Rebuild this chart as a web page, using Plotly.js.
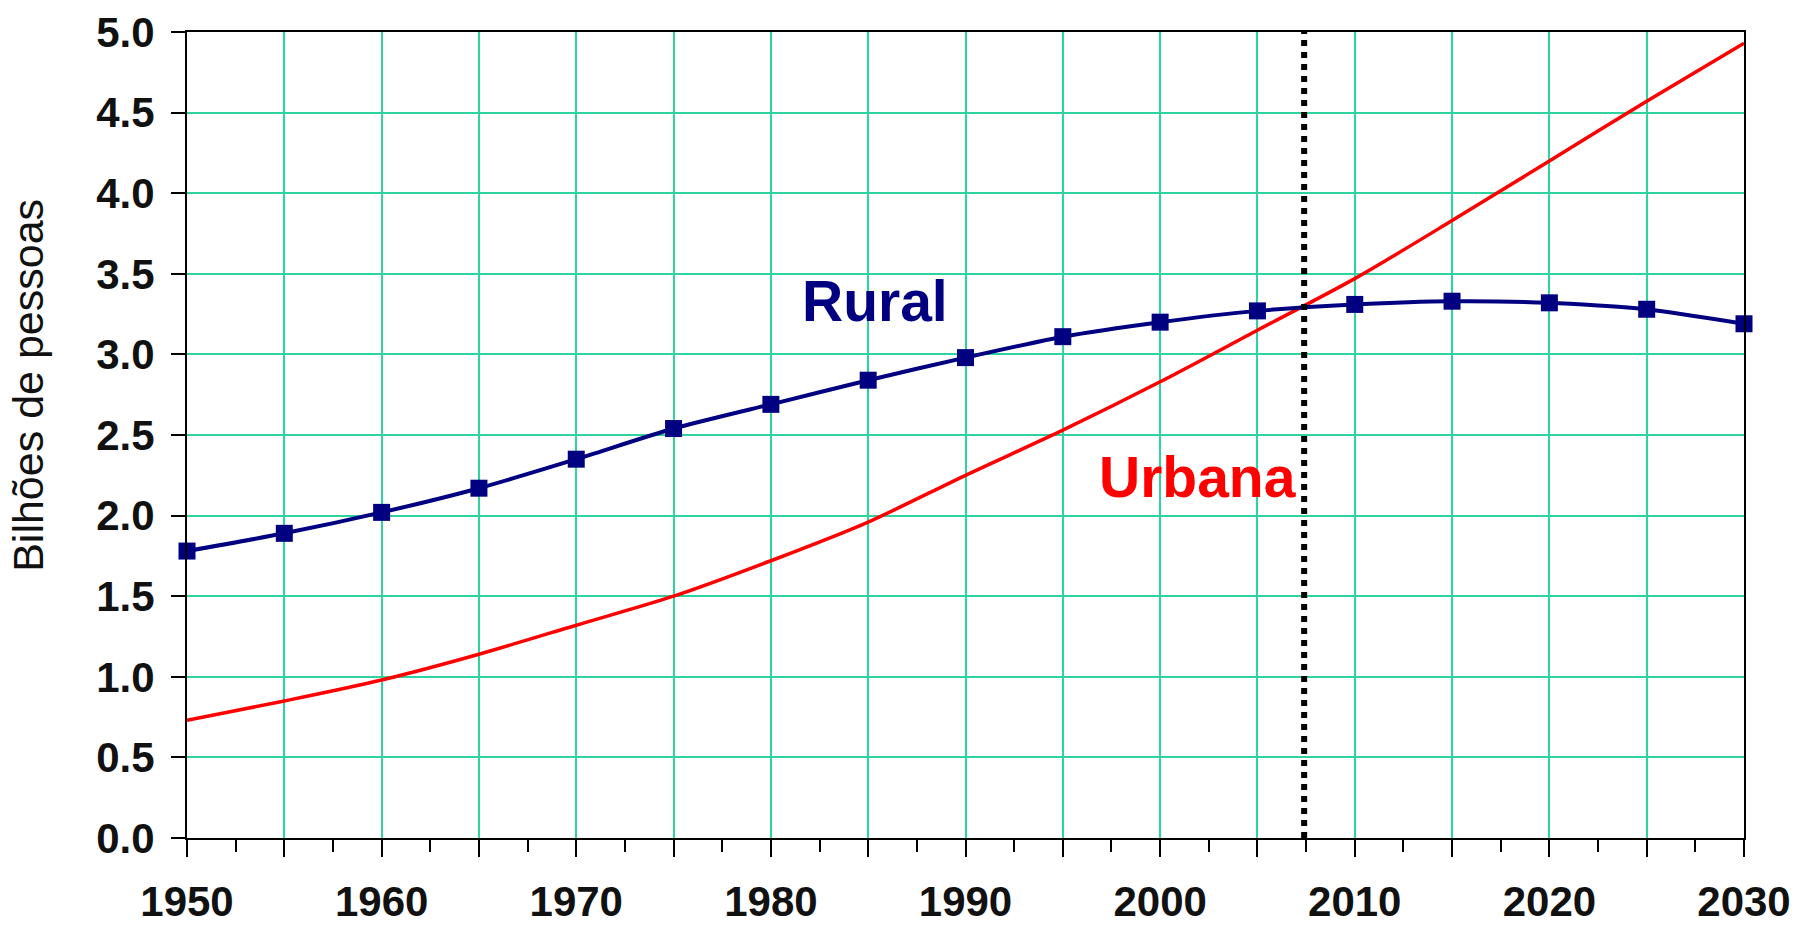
<!DOCTYPE html>
<html>
<head>
<meta charset="utf-8">
<script src="https://cdn.plot.ly/plotly-3.0.1.min.js"></script>
<style>
html,body{margin:0;padding:0;background:#fff;}
#chart{width:1797px;height:928px;}
</style>
</head>
<body>
<div id="chart"></div>
<script>
const years = [1950,1955,1960,1965,1970,1975,1980,1985,1990,1995,2000,2005,2010,2015,2020,2025,2030];
const rural = [1.78,1.89,2.02,2.17,2.35,2.54,2.69,2.84,2.98,3.11,3.20,3.27,3.31,3.33,3.32,3.28,3.19];
const urbana = [0.73,0.85,0.98,1.14,1.32,1.50,1.72,1.96,2.25,2.53,2.83,3.15,3.47,3.83,4.20,4.57,4.93];
const crossoverYear = 2007.4;
const xTickVals = [1950,1955,1960,1965,1970,1975,1980,1985,1990,1995,2000,2005,2010,2015,2020,2025,2030];
const xTickText = ['1950','','1960','','1970','','1980','','1990','','2000','','2010','','2020','','2030'];
const yTickVals = [0,0.5,1,1.5,2,2.5,3,3.5,4,4.5,5];
const yTickText = ['0.0','0.5','1.0','1.5','2.0','2.5','3.0','3.5','4.0','4.5','5.0'];
const yTitle = 'Bilhões de pessoas';

const gridColor = '#2ed3a0';
const tickFont = {family:'Liberation Sans, Arial, sans-serif', size:42, color:'#111', weight:'bold'};

const traces = [
  {
    x: years, y: urbana, type:'scatter', mode:'lines', name:'Urbana',
    line:{color:'#ff0000', width:3.5, shape:'spline', smoothing:0.8},
    hoverinfo:'skip'
  },
  {
    x: years, y: rural, type:'scatter', mode:'lines+markers', name:'Rural',
    line:{color:'#000080', width:4, shape:'spline', smoothing:0.6},
    marker:{symbol:'square', size:17, color:'#000080'},
    cliponaxis:false,
    hoverinfo:'skip'
  }
];

const layout = {
  width:1797, height:928,
  margin:{l:187, r:53, t:32, b:90},
  paper_bgcolor:'#fff', plot_bgcolor:'#fff',
  showlegend:false,
  xaxis:{
    range:[1950,2030], tickmode:'array', tickvals:xTickVals, ticktext:xTickText,
    showgrid:true, gridcolor:gridColor, gridwidth:2,
    ticks:'outside', ticklen:17, tickwidth:2, tickcolor:'#000',
    showline:true, linecolor:'#000', linewidth:2, mirror:true,
    zeroline:false,
    tickfont:tickFont, ticklabelstandoff:9,
    minor:{tickmode:'linear', tick0:1950, dtick:2.5, ticks:'outside', ticklen:12, tickwidth:2, tickcolor:'#000', showgrid:false}
  },
  yaxis:{
    range:[0,5], tickmode:'array', tickvals:yTickVals, ticktext:yTickText,
    showgrid:true, gridcolor:gridColor, gridwidth:2,
    ticks:'outside', ticklen:14, tickwidth:2, tickcolor:'#000',
    showline:true, linecolor:'#000', linewidth:2, mirror:true,
    zeroline:false,
    tickfont:tickFont, ticklabelstandoff:8
  },
  shapes:[
    {type:'line', xref:'x', yref:'y', x0:crossoverYear, x1:crossoverYear, y0:0, y1:5,
     line:{color:'#000', width:6, dash:'dot'}}
  ],
  annotations:[
    {x:0, y:0.561, xref:'paper', yref:'paper', text:yTitle, showarrow:false, textangle:-90,
     xshift:-159, xanchor:'center', yanchor:'middle',
     font:{family:'Liberation Sans, Arial, sans-serif', size:43, color:'#111'}},
    {x:1985.35, y:3.33, xref:'x', yref:'y', text:'Rural', showarrow:false,
     font:{family:'Liberation Sans, Arial, sans-serif', size:57, color:'#000080', weight:'bold'},
     xanchor:'center', yanchor:'middle'},
    {x:2001.95, y:2.24, xref:'x', yref:'y', text:'Urbana', showarrow:false,
     font:{family:'Liberation Sans, Arial, sans-serif', size:57, color:'#ff0000', weight:'bold'},
     xanchor:'center', yanchor:'middle'}
  ]
};

Plotly.newPlot('chart', traces, layout, {displayModeBar:false, staticPlot:true});
</script>
</body>
</html>
